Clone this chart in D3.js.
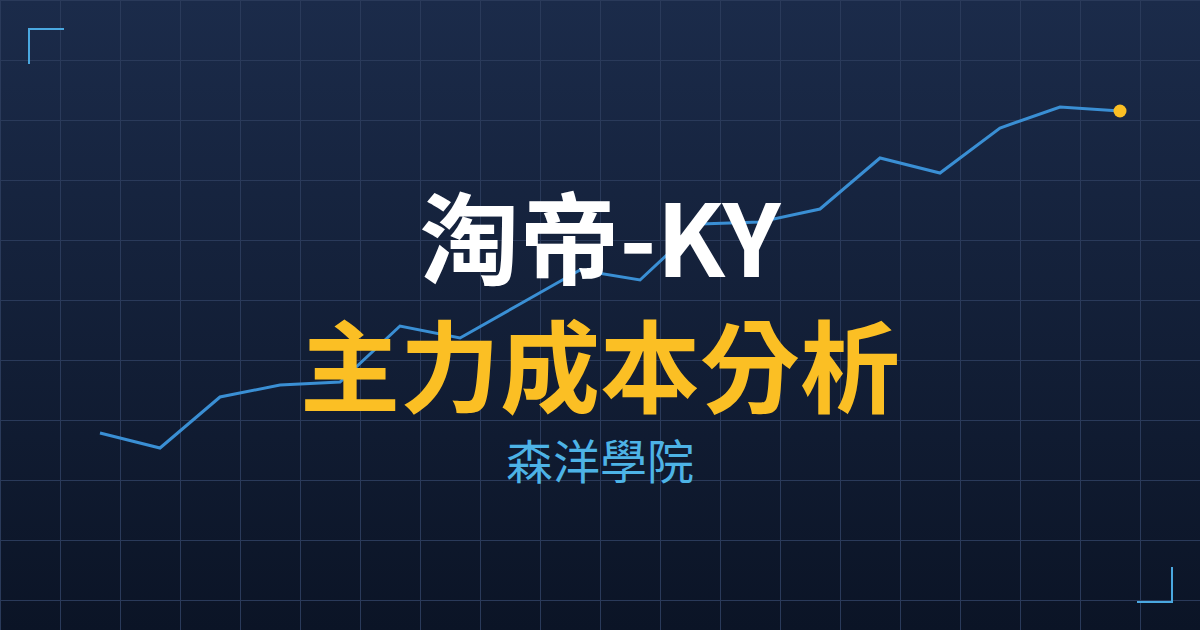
<!DOCTYPE html>
<html>
<head>
<meta charset="utf-8">
<script src="https://cdn.jsdelivr.net/npm/d3@7"></script>
<style>
  html, body { margin: 0; padding: 0; background: #0b1426; }
  svg { display: block; }
</style>
</head>
<body>
<svg></svg>
<script>
// Cover card: price line behind the title

const width = 1200;
const height = 630;

// Data (index = step, value = relative price level)
const steps = d3.range(18);
const prices = [11.75, 8, 20.75, 23.75, 24.5, 38.5, 35.5, 44, 52.5, 50,
                64, 64.5, 67.75, 80.5, 76.75, 88, 93.25, 92.25];

const titleLines = ["淘帝-KY", "主力成本分析"];
const subtitle = "森洋學院";

const gridStep = 60;

const x = d3.scaleLinear()
    .domain([0, steps.length - 1])
    .range([100, 1120]);

const y = d3.scaleLinear()
    .domain([0, 100])
    .range([480, 80]);

const svg = d3.select("svg")
    .attr("width", width)
    .attr("height", height)
    .attr("viewBox", [0, 0, width, height]);

// background gradient
const defs = svg.append("defs");
const grad = defs.append("linearGradient")
    .attr("id", "bg")
    .attr("x1", 0).attr("y1", 0)
    .attr("x2", 0).attr("y2", 1);
grad.append("stop").attr("offset", "0%").attr("stop-color", "#1b2b4a");
grad.append("stop").attr("offset", "100%").attr("stop-color", "#0b1426");

svg.append("rect")
    .attr("width", width)
    .attr("height", height)
    .attr("fill", "url(#bg)");

// grid
const grid = svg.append("g")
    .attr("stroke", "#2a3a5a")
    .attr("stroke-width", 1);

grid.selectAll("line.v")
  .data(d3.range(0, width + 1, gridStep))
  .join("line")
    .attr("class", "v")
    .attr("x1", d => d + 0.5).attr("x2", d => d + 0.5)
    .attr("y1", 0).attr("y2", height);

grid.selectAll("line.h")
  .data(d3.range(0, height + 1, gridStep))
  .join("line")
    .attr("class", "h")
    .attr("x1", 0).attr("x2", width)
    .attr("y1", d => d + 0.5).attr("y2", d => d + 0.5);

// corner brackets
const corners = svg.append("g")
    .attr("fill", "none")
    .attr("stroke", "#4aa8e0")
    .attr("stroke-width", 2);
corners.append("path").attr("d", "M29,64V29H64");
corners.append("path").attr("d", "M1172,567V602H1137");

// price line
const line = d3.line()
    .x((d, i) => x(steps[i]))
    .y(d => y(d));

svg.append("path")
    .datum(prices)
    .attr("fill", "none")
    .attr("stroke", "#3a8fd4")
    .attr("stroke-width", 3)
    .attr("stroke-linejoin", "miter")
    .attr("d", line);

const last = prices.length - 1;
svg.append("circle")
    .attr("cx", x(steps[last]))
    .attr("cy", y(prices[last]))
    .attr("r", 6.5)
    .attr("fill", "#fbbf24");

// titles
const font = "'Noto Sans CJK TC', 'Noto Sans', sans-serif";

svg.append("text")
    .attr("x", width / 2)
    .attr("y", 277)
    .attr("text-anchor", "middle")
    .attr("font-family", font)
    .attr("font-weight", 700)
    .attr("font-size", 100)
    .attr("fill", "#ffffff")
    .text(titleLines[0]);

svg.append("text")
    .attr("x", width / 2)
    .attr("y", 405)
    .attr("text-anchor", "middle")
    .attr("font-family", font)
    .attr("font-weight", 700)
    .attr("font-size", 100)
    .attr("fill", "#fbbf24")
    .text(titleLines[1]);

svg.append("text")
    .attr("x", width / 2)
    .attr("y", 479)
    .attr("text-anchor", "middle")
    .attr("font-family", font)
    .attr("font-weight", 400)
    .attr("font-size", 47)
    .attr("fill", "#4db3e6")
    .text(subtitle);
</script>
</body>
</html>
